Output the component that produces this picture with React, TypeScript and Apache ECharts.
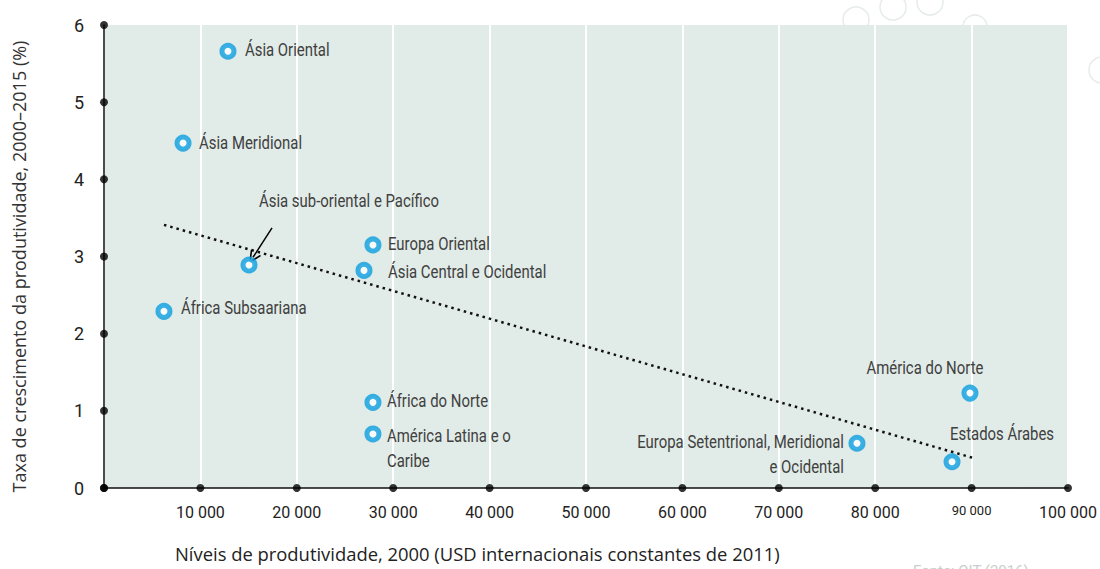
import React, { useEffect, useRef } from "react";
import * as echarts from "echarts";

const regions = [
  "Ásia Oriental",
  "Ásia Meridional",
  "Ásia sub-oriental e Pacífico",
  "Europa Oriental",
  "Ásia Central e Ocidental",
  "África Subsaariana",
  "África do Norte",
  "América Latina e o\nCaribe",
  "América do Norte",
  "Europa Setentrional, Meridional\ne Ocidental",
  "Estados Árabes",
];
const productivity = [12860, 8200, 15040, 27900, 26970, 6220, 27900, 27900, 89830, 78110, 87970];
const growth = [5.66, 4.47, 2.89, 3.15, 2.82, 2.29, 1.11, 0.7, 1.23, 0.58, 0.34];

const trendX = [6220, 90150];
const trendY = [3.41, 0.39];

const arrowFrom = [17430, 3.37];
const arrowTo = [15460, 2.99];

const xTicks = [0, 10000, 20000, 30000, 40000, 50000, 60000, 70000, 80000, 90000, 100000];
const yTicks = [0, 1, 2, 3, 4, 5, 6];

const xTitle = "Níveis de produtividade, 2000 (USD internacionais constantes de 2011)";
const yTitle = "Taxa de crescimento da produtividade, 2000–2015 (%)";
const sourceText = "Fonte: OIT (2016)";

// label placement relative to each marker, in pixels (style only): [dx, dyOfFirstLineCentre, align]
const labelPlacement: [number, number, string][] = [
  [17, -2, "left"],
  [16, -1, "left"],
  [10, -65, "left"],
  [15, -2, "left"],
  [24, 1, "left"],
  [17, -4, "left"],
  [14, -2, "left"],
  [14, 1, "left"],
  [-45, -26, "center"],
  [-13, -2, "right"],
  [50, -28, "center"],
];

const fmt = (v: number) => {
  if (v === 0) return "";
  const s = String(v).replace(/\B(?=(\d{3})+(?!\d))/g, " ");
  return v === 90000 ? `{s|${s}}` : s;
};

const LINE_H = 25;

export default function App() {
  const ref = useRef<HTMLDivElement>(null);
  useEffect(() => {
    if (!ref.current) return;
    const chart = echarts.init(ref.current, undefined, { renderer: "svg" });
    chart.setOption({
      animation: false,
      backgroundColor: "#ffffff",
      grid: {
        left: 104,
        right: 32,
        top: 25,
        bottom: 81,
        show: true,
        backgroundColor: "#e1ebe7",
        borderWidth: 0,
      },
      xAxis: {
        type: "value",
        min: 0,
        max: 100000,
        interval: 10000,
        axisLine: { show: true, lineStyle: { color: "#111", width: 1.5 } },
        axisTick: { show: false },
        splitLine: { show: true, lineStyle: { color: "#ffffff", width: 2 } },
        axisLabel: {
          formatter: fmt,
          margin: 16,
          color: "#222",
          fontFamily: "Roboto",
          fontSize: 16,
          rich: { s: { fontSize: 13, fontFamily: "Roboto", color: "#222" } },
        },
      },
      yAxis: {
        type: "value",
        min: 0,
        max: 6,
        interval: 1,
        name: yTitle,
        nameLocation: "middle",
        nameGap: 76,
        nameTextStyle: { color: "#333", fontFamily: "'Open Sans'", fontSize: 18, padding: [0, 20, 0, 0] },
        axisLine: { show: true, lineStyle: { color: "#111", width: 1.5 } },
        axisTick: { show: false },
        splitLine: { show: false },
        axisLabel: { margin: 20, color: "#222", fontFamily: "Roboto", fontSize: 18 },
      },
      graphic: [
        {
          type: "text",
          left: 175,
          top: 544,
          style: { text: xTitle, fill: "#222", font: "18.4px 'Open Sans'" },
        },
        {
          type: "text",
          left: 913,
          top: 563,
          style: { text: sourceText, fill: "#c8cfcc", font: "15px Roboto" },
        },
        { type: "circle", shape: { cx: 856, cy: 20, r: 13 }, style: { fill: "none", stroke: "#e6ecea", lineWidth: 1.5 }, z: -10 },
        { type: "circle", shape: { cx: 893, cy: 7, r: 13 }, style: { fill: "none", stroke: "#e6ecea", lineWidth: 1.5 }, z: -10 },
        { type: "circle", shape: { cx: 930, cy: 2, r: 13 }, style: { fill: "none", stroke: "#e6ecea", lineWidth: 1.5 }, z: -10 },
        { type: "circle", shape: { cx: 975, cy: 27, r: 12 }, style: { fill: "none", stroke: "#e6ecea", lineWidth: 1.5 }, z: -10 },
        { type: "circle", shape: { cx: 1102, cy: 70, r: 13 }, style: { fill: "none", stroke: "#e6ecea", lineWidth: 1.5 }, z: -10 },
      ],
      series: [
        {
          type: "line",
          data: trendX.map((x, i) => [x, trendY[i]]),
          symbol: "none",
          lineStyle: { color: "#111", width: 2.5, type: [2.5, 4] },
          z: 3,
          silent: true,
        },
        {
          type: "scatter",
          data: [
            ...xTicks.map((t) => [t, 0]),
            ...yTicks.map((t) => [0, t]),
          ],
          symbol: "circle",
          symbolSize: 8,
          itemStyle: { color: "#000" },
          clip: false,
          z: 5,
          silent: true,
        },
        {
          type: "scatter",
          data: regions.map((name, i) => ({ name, value: [productivity[i], growth[i]] })),
          symbol: "circle",
          symbolSize: 12,
          itemStyle: { color: "#ffffff", borderColor: "#0a9de0", borderWidth: 5 },
          z: 6,
          markLine: {
            silent: true,
            symbol: ["none", "path://M0,0 L1.4,0 L7,10 L5.6,10.8 L0.7,2 L-4.2,10.8 L-5.6,10 Z"],
            symbolSize: [12, 12],
            lineStyle: { color: "#000", width: 1.5, type: "solid" },
            itemStyle: { color: "#000" },
            label: { show: false },
            data: [[{ coord: arrowFrom }, { coord: arrowTo }]],
          },
        },
        {
          type: "custom",
          data: regions.map((_, i) => [productivity[i], growth[i], i]),
          encode: { x: 0, y: 1 },
          clip: false,
          silent: true,
          z: 7,
          renderItem: (_params: any, api: any) => {
            const pt = api.coord([api.value(0), api.value(1)]);
            const idx = api.value(2);
            const [dx, dy, align] = labelPlacement[idx];
            return {
              type: "text",
              x: pt[0] + dx,
              y: pt[1] + dy - LINE_H / 2,
              scaleX: 0.785,
              style: {
                text: regions[idx],
                fill: "#404040",
                font: "19px Roboto",
                align,
                verticalAlign: "top",
                lineHeight: LINE_H,
              },
            };
          },
        },
      ],
    });
    return () => chart.dispose();
  }, []);
  return (
    <div
      ref={ref}
      style={{ position: "fixed", left: 0, top: 0, width: 1100, height: 569 }}
    />
  );
}
